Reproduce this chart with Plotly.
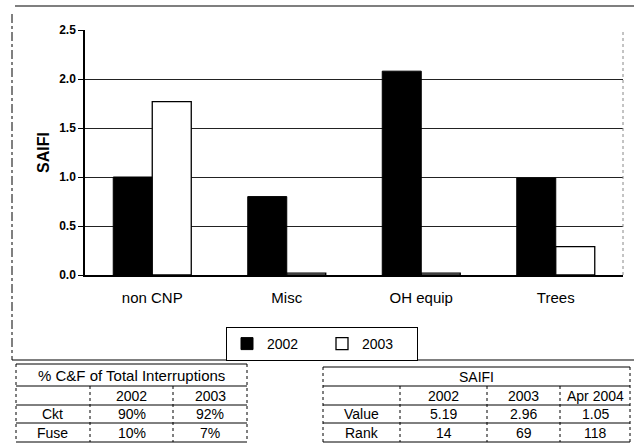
import plotly.graph_objects as go

W, H = 634, 443

# ---- data ----
categories = ["non CNP", "Misc", "OH equip", "Trees"]
series_names = ["2002", "2003"]
saifi_2002 = [1.00, 0.80, 2.08, 0.99]
saifi_2003 = [1.77, 0.02, 0.02, 0.29]

y_ticks = [0.0, 0.5, 1.0, 1.5, 2.0, 2.5]
y_tick_labels = ["0.0", "0.5", "1.0", "1.5", "2.0", "2.5"]

cf_title = "% C&F of Total Interruptions"
cf_cols = ["", "2002", "2003"]
cf_rows = ["Ckt", "Fuse"]
cf_ckt = ["90%", "92%"]
cf_fuse = ["10%", "7%"]

saifi_title = "SAIFI"
saifi_cols = ["", "2002", "2003", "Apr 2004"]
saifi_rows = ["Value", "Rank"]
saifi_value = ["5.19", "2.96", "1.05"]
saifi_rank = ["14", "69", "118"]


def px(x):
    return x / W


def py(y):
    return 1 - y / H


FONT = "Liberation Sans, Arial, sans-serif"

fig = go.Figure()
fig.add_trace(go.Bar(x=categories, y=saifi_2002, name=series_names[0],
                     marker=dict(color="black", line=dict(color="black", width=1))))
fig.add_trace(go.Bar(x=categories, y=saifi_2003, name=series_names[1],
                     marker=dict(color="white", line=dict(color="black", width=1.3))))

shapes = []
annotations = []


def hline(x0, x1, y, dash="solid", w=1):
    shapes.append(dict(type="line", xref="paper", yref="paper", x0=px(x0), x1=px(x1),
                       y0=py(y), y1=py(y), line=dict(color="black", width=w, dash=dash)))


def vline(x, y0, y1, dash="solid", w=1):
    shapes.append(dict(type="line", xref="paper", yref="paper", x0=px(x), x1=px(x),
                       y0=py(y0), y1=py(y1), line=dict(color="black", width=w, dash=dash)))


def text(x, y, s, size=14):
    annotations.append(dict(xref="paper", yref="paper", x=px(x), y=py(y), text=s,
                            showarrow=False, xanchor="center", yanchor="middle",
                            font=dict(family=FONT, size=size, color="black")))


# outer chart frame
hline(15, 634, 6, w=1.2)
vline(12, 14, 360, dash="dashdot")
hline(12, 634, 360, w=1.2)

# ---- left table ----
lx = [16, 90, 173, 247]
ly = [364, 386, 405, 423, 442]
for y in ly:
    hline(lx[0], lx[-1], y)
vline(lx[0], ly[0], ly[-1], dash="dot")
vline(lx[-1], ly[0], ly[-1], dash="dot")
for x in lx[1:-1]:
    vline(x, ly[1], ly[-1], dash="dot")
text((lx[0] + lx[-1]) / 2, (ly[0] + ly[1]) / 2, cf_title, 15)
row_vals = [cf_cols, [cf_rows[0]] + cf_ckt, [cf_rows[1]] + cf_fuse]
for r, vals in enumerate(row_vals):
    for c, v in enumerate(vals):
        text((lx[c] + lx[c + 1]) / 2, (ly[r + 1] + ly[r + 2]) / 2, v)

# ---- right table ----
rx = [323, 400, 487, 560, 630]
ry = [367, 386, 405, 423, 442]
for y in ry:
    hline(rx[0], rx[-1], y)
vline(rx[0], ry[0], ry[-1], dash="dot")
vline(rx[-1], ry[0], ry[-1], dash="dot")
for x in rx[1:-1]:
    vline(x, ry[1], ry[-1], dash="dot")
text((rx[0] + rx[-1]) / 2, (ry[0] + ry[1]) / 2, saifi_title)
row_vals = [saifi_cols, [saifi_rows[0]] + saifi_value, [saifi_rows[1]] + saifi_rank]
for r, vals in enumerate(row_vals):
    for c, v in enumerate(vals):
        text((rx[c] + rx[c + 1]) / 2, (ry[r + 1] + ry[r + 2]) / 2, v)

# plot area right border (faint)
shapes.append(dict(type="line", xref="paper", yref="paper", x0=px(623), x1=px(623),
                   y0=py(275), y1=py(30), line=dict(color="#888", width=1, dash="dot")))

fig.update_layout(
    width=W, height=H,
    margin=dict(l=0, r=0, t=0, b=0, autoexpand=False),
    paper_bgcolor="white", plot_bgcolor="white",
    barmode="group", bargap=0.42, bargroupgap=0,
    font=dict(family=FONT, color="black"),
    showlegend=True,
    legend=dict(orientation="h", x=px(226), y=py(327), xanchor="left", yanchor="top",
                bordercolor="black", borderwidth=1, bgcolor="white",
                font=dict(size=14, family=FONT), entrywidth=50, entrywidthmode="pixels",
                itemwidth=30, tracegroupgap=0),
    xaxis=dict(domain=[px(85), px(623)], showgrid=False, showline=True, automargin=False,
               linecolor="black", linewidth=1.5, ticks="", tickfont=dict(size=15),
               ticklabelstandoff=8, fixedrange=True),
    yaxis=dict(domain=[py(275), py(30)], range=[0, 2.5], tickvals=y_ticks, automargin=False,
               ticktext=y_tick_labels, showgrid=True, gridcolor="#222", gridwidth=1,
               showline=True, linecolor="black", linewidth=1.5, ticks="outside",
               ticklen=5, tickcolor="black",
               tickfont=dict(size=12, family=FONT, weight="bold"),
               title=dict(text="<b>SAIFI</b>", font=dict(size=16), standoff=6),
               zeroline=False, fixedrange=True),
    shapes=shapes, annotations=annotations,
)

fig.write_html("out.html", config={"displayModeBar": False},
               post_script="document.body.style.margin='0px';document.body.style.overflow='hidden';")
